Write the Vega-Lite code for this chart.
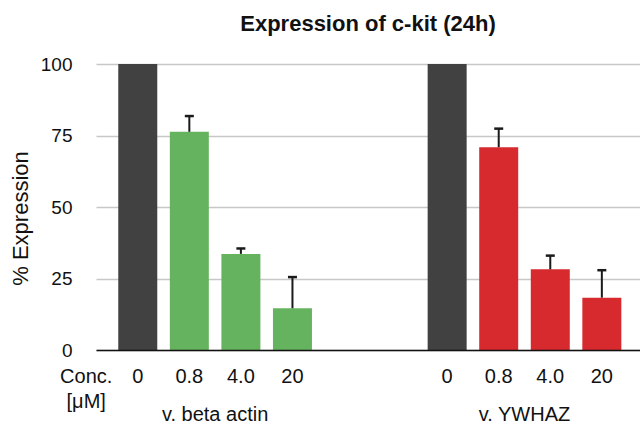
{
  "$schema": "https://vega.github.io/schema/vega-lite/v6.json",
  "width": 544,
  "height": 286,
  "autosize": {"type": "none"},
  "padding": {"left": 96, "top": 64, "right": 0, "bottom": 76},
  "background": "white",
  "config": {"font": "Liberation Sans", "view": {"stroke": null}},
  "title": {"text": "Expression of c-kit (24h)", "fontSize": 22, "fontWeight": "bold", "font": "Liberation Sans", "color": "#111111", "anchor": "middle", "baseline": "bottom", "offset": 29, "dy": 32},
  "data": {
    "values": [
      {"group": "v. beta actin", "series": "control", "conc": "0", "slot": 1, "value": 100, "upper": null},
      {"group": "v. beta actin", "series": "beta actin", "conc": "0.8", "slot": 2, "value": 76.3, "upper": 81.8},
      {"group": "v. beta actin", "series": "beta actin", "conc": "4.0", "slot": 3, "value": 33.6, "upper": 35.5},
      {"group": "v. beta actin", "series": "beta actin", "conc": "20", "slot": 4, "value": 14.6, "upper": 25.5},
      {"group": "v. YWHAZ", "series": "control", "conc": "0", "slot": 7, "value": 100, "upper": null},
      {"group": "v. YWHAZ", "series": "YWHAZ", "conc": "0.8", "slot": 8, "value": 70.9, "upper": 77.4},
      {"group": "v. YWHAZ", "series": "YWHAZ", "conc": "4.0", "slot": 9, "value": 28.2, "upper": 33.0},
      {"group": "v. YWHAZ", "series": "YWHAZ", "conc": "20", "slot": 10, "value": 18.3, "upper": 27.9}
    ]
  },
  "layer": [
    {
      "mark": {"type": "bar", "size": 39},
      "encoding": {
        "x": {"field": "slot", "type": "quantitative", "scale": {"domain": [0.19, 10.74], "nice": false, "zero": false, "padding": 0},
              "axis": {"labels": false, "ticks": false, "grid": false, "domain": true, "domainColor": "#111111", "domainWidth": 1.5, "title": null, "zindex": 1}},
        "y": {"field": "value", "type": "quantitative", "scale": {"domain": [0, 100], "nice": false, "padding": 0},
              "axis": {"values": [0, 25, 50, 75, 100], "domain": false, "ticks": false, "tickSize": 0, "labelPadding": 24, "labelFontSize": 19, "labelColor": "#111111", "gridColor": "#c8c8c8", "gridWidth": 1.5, "title": "% Expression", "titleFontSize": 22, "titleFontWeight": "normal", "titleColor": "#111111", "titlePadding": 8, "titleY": 154}},
        "color": {"field": "series", "type": "nominal", "scale": {"domain": ["control", "beta actin", "YWHAZ"], "range": ["#414141", "#66b35f", "#d62a2e"]}, "legend": null}
      }
    },
    {
      "transform": [{"filter": "datum.upper != null"}],
      "mark": {"type": "rule", "color": "#1a1a1a", "strokeWidth": 2},
      "encoding": {
        "x": {"field": "slot", "type": "quantitative"},
        "y": {"field": "value", "type": "quantitative"},
        "y2": {"field": "upper"}
      }
    },
    {
      "transform": [{"filter": "datum.upper != null"}],
      "mark": {"type": "tick", "orient": "horizontal", "color": "#1a1a1a", "size": 9, "thickness": 2.5, "opacity": 1},
      "encoding": {
        "x": {"field": "slot", "type": "quantitative"},
        "y": {"field": "upper", "type": "quantitative"}
      }
    },
    {
      "mark": {"type": "text", "fontSize": 20, "color": "#111111", "baseline": "middle", "align": "center"},
      "encoding": {
        "x": {"field": "slot", "type": "quantitative"},
        "y": {"datum": -9.4},
        "text": {"field": "conc"}
      }
    },
    {
      "mark": {"type": "text", "fontSize": 20, "color": "#111111", "baseline": "middle", "align": "center"},
      "encoding": {
        "x": {"aggregate": "mean", "field": "slot", "type": "quantitative"},
        "y": {"datum": -22.7},
        "text": {"field": "group"}
      }
    },
    {
      "data": {"values": [{"label": "Conc."}]},
      "mark": {"type": "text", "fontSize": 20, "color": "#111111", "baseline": "middle", "align": "center"},
      "encoding": {
        "x": {"datum": 0},
        "y": {"datum": -9.4},
        "text": {"field": "label"}
      }
    },
    {
      "data": {"values": [{"label": "[μM]"}]},
      "mark": {"type": "text", "fontSize": 20, "color": "#111111", "baseline": "middle", "align": "center"},
      "encoding": {
        "x": {"datum": 0},
        "y": {"datum": -18.2},
        "text": {"field": "label"}
      }
    }
  ]
}
